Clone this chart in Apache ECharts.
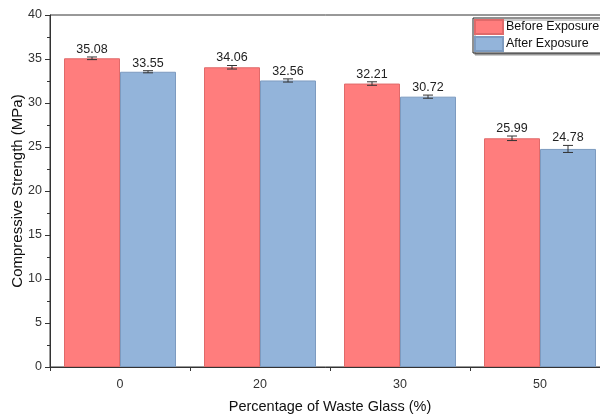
<!DOCTYPE html>
<html><head><meta charset="utf-8">
<script src="https://cdn.jsdelivr.net/npm/echarts@6/dist/echarts.min.js"></script>
<style>html,body{margin:0;padding:0;background:#fff}#c{width:600px;height:415px}</style>
</head><body><div id="c"></div>
<script>
const categories = ['0', '20', '30', '50'];
const beforeValues = [35.08, 34.06, 32.21, 25.99];
const afterValues = [33.55, 32.56, 30.72, 24.78];
const beforeErrors = [0.15, 0.2, 0.2, 0.26];
const afterErrors = [0.12, 0.18, 0.18, 0.4];
const seriesNames = ['Before Exposure', 'After Exposure'];

const FONT = '"Liberation Sans", Arial, sans-serif';
const chart = echarts.init(document.getElementById('c'));

function errSeries(name, vals, errs, side) {
  return {
    type: 'custom', name: name + ' err', xAxisIndex: 0, yAxisIndex: 0, z: 10,
    silent: true, legendHoverLink: false,
    data: vals.map((v, i) => [i, v, errs[i]]),
    renderItem: function (params, api) {
      const i = api.value(0), v = api.value(1), e = api.value(2);
      const bw = api.size([1, 0])[0];
      const c = api.coord([i, v]);
      const x = c[0] + side * bw * 0.2;
      const yT = api.coord([i, v + e])[1];
      const yB = api.coord([i, v - e])[1];
      const h = 5;
      const st = { stroke: '#333', lineWidth: 1 };
      return {
        type: 'group', children: [
          { type: 'line', shape: { x1: x, y1: yT, x2: x, y2: yB }, style: st },
          { type: 'line', shape: { x1: x - h, y1: yT, x2: x + h, y2: yT }, style: st },
          { type: 'line', shape: { x1: x - h, y1: yB, x2: x + h, y2: yB }, style: st },
          { type: 'text', style: { text: v.toFixed(2), x: x, y: yT - 1, textAlign: 'center', textVerticalAlign: 'bottom', font: '12.5px ' + FONT, fill: '#222' } }
        ]
      };
    }
  };
}

chart.setOption({
  animation: false,
  textStyle: { fontFamily: FONT },
  grid: { left: 50, top: 15, width: 560, height: 352, show: true, borderColor: '#333', borderWidth: 1, outerBoundsMode: 'none', containLabel: false },
  legend: {
    data: seriesNames, orient: 'vertical', left: 473, top: 18, icon: 'rect',
    itemWidth: 28, itemHeight: 14, itemGap: 1, padding: [1, 30, 1, 1],
    borderColor: '#222', borderWidth: 1, backgroundColor: '#fff',
    shadowColor: '#999', shadowOffsetX: 2, shadowOffsetY: 2, shadowBlur: 0,
    textStyle: { fontSize: 12.5, color: '#111', fontFamily: FONT, padding: [0, 0, 0, -2] }
  },
  xAxis: [{
    type: 'category', data: categories, position: 'bottom',
    name: 'Percentage of Waste Glass (%)', nameLocation: 'middle', nameGap: 32,
    nameTextStyle: { fontSize: 14.5, color: '#111' },
    axisLine: { lineStyle: { color: '#333' } },
    axisTick: { alignWithLabel: true, length: 4, lineStyle: { color: '#333' } },
    axisLabel: { fontSize: 12.5, color: '#333', margin: 11 },
    splitLine: { show: false }
  }, {
    type: 'category', data: categories, position: 'bottom', gridIndex: 0,
    axisLine: { show: false },
    axisTick: { show: true, length: 4, lineStyle: { color: '#333' } },
    axisLabel: { show: false }, splitLine: { show: false }
  }],
  yAxis: {
    type: 'value', min: 0, max: 40, interval: 5,
    name: 'Compressive Strength (MPa)', nameLocation: 'middle', nameGap: 25, nameMoveOverlap: false,
    nameTextStyle: { fontSize: 15, color: '#111' },
    axisLine: { show: true, lineStyle: { color: '#333' } },
    axisTick: { show: true, length: 5, lineStyle: { color: '#333' } },
    minorTick: { show: true, splitNumber: 2, length: 3, lineStyle: { color: '#333' } },
    axisLabel: { fontSize: 12.5, color: '#333', margin: 8 },
    splitLine: { show: false }
  },
  series: [
    { type: 'bar', name: seriesNames[0], data: beforeValues, barWidth: '40%', barGap: '0%',
      itemStyle: { color: '#ff7d7d', borderColor: '#e06a6a', borderWidth: 1 } },
    { type: 'bar', name: seriesNames[1], data: afterValues, barWidth: '40%', barGap: '0%',
      itemStyle: { color: '#93b4da', borderColor: '#7d9bc0', borderWidth: 1 } },
    errSeries(seriesNames[0], beforeValues, beforeErrors, -1),
    errSeries(seriesNames[1], afterValues, afterErrors, 1)
  ]
});
</script></body></html>
